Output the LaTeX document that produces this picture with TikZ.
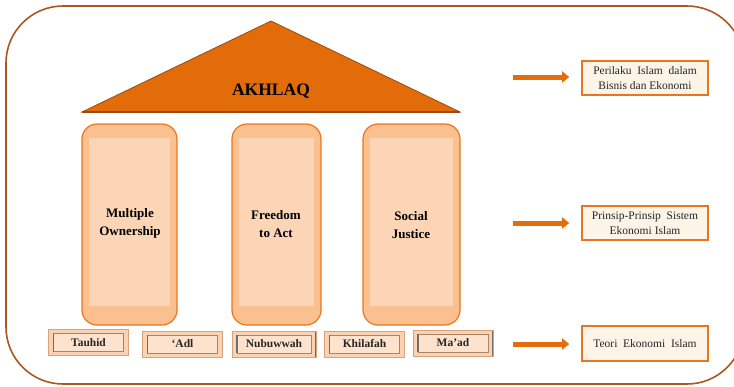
\documentclass[tikz,border=0pt]{standalone}
\usepackage{fontspec}
\setmainfont{Liberation Serif}
\usetikzlibrary{arrows.meta}

\definecolor{framebrown}{HTML}{A9581F}
\definecolor{roofo}{HTML}{E36C0A}
\definecolor{roofedge}{HTML}{9A4A10}
\definecolor{pilout}{HTML}{FAC090}
\definecolor{pilin}{HTML}{FBD5B5}
\definecolor{piledge}{HTML}{E8761E}
\definecolor{baseout}{HTML}{FAD2B2}
\definecolor{basein}{HTML}{FDE3CD}
\definecolor{baseedge}{HTML}{D7A27C}
\definecolor{bevel}{HTML}{6E6E6E}
\definecolor{notefill}{HTML}{FDF4E8}
\definecolor{noteedge}{HTML}{E8761E}
\definecolor{arrowo}{HTML}{E46C0A}
\definecolor{txt}{HTML}{262626}

\tikzset{
  pillar/.style={draw=piledge, line width=1.2pt, fill=pilout,
    rounded corners=15pt, minimum height=201pt, inner sep=0pt,
    path picture={\fill[pilin, sharp corners]
      ([shift={(7,14)}]path picture bounding box.north west) rectangle
      ([shift={(-7,-19)}]path picture bounding box.south east);}},
  piltext/.style={font=\fontsize{13}{18}\selectfont\bfseries, text=black,
    align=center},
  basebox/.style={draw=baseedge, line width=1pt, fill=baseout,
    minimum width=80pt, minimum height=26pt, inner sep=0pt,
    font=\fontsize{11.5}{13}\selectfont\bfseries, text=txt,
    path picture={
      \draw[baseedge!80!black, fill=basein, line width=0.6pt]
        ([shift={(5,4)}]path picture bounding box.north west) rectangle
        ([shift={(-5,-4)}]path picture bounding box.south east);
      \draw[bevel, line width=1.2pt]
        ([shift={(5,4)}]path picture bounding box.north west) --
        ([shift={(5,-4)}]path picture bounding box.south west);
      \draw[bevel, line width=2pt]
        (path picture bounding box.north east) --
        (path picture bounding box.south east);}},
  notebox/.style={draw=noteedge, line width=1.6pt, fill=notefill,
    minimum width=126pt, minimum height=34pt, inner sep=2pt, align=center,
    font=\fontsize{11.5}{15}\selectfont, text=txt},
  flow/.style={draw=arrowo, line width=5pt,
    -{Triangle[length=7pt,width=11pt]}}
}

\begin{document}
\begin{tikzpicture}[x=1pt,y=-1pt]
\useasboundingbox (0,0) rectangle (734,386);
\begin{scope}
\clip (0,0) rectangle (734,386);
% outer frame
\draw[framebrown, line width=1.6pt, rounded corners=57pt] (6,6) rectangle (744,384);
\end{scope}

% roof
\coordinate (rl) at (82,112);
\coordinate (rt) at (271,21);
\coordinate (rr) at (460,112);
\filldraw[fill=roofo, draw=roofedge, line width=0.8pt, line join=miter] (rl) -- (rt) -- (rr) -- cycle;
\draw[roofedge, line width=1.4pt] (rl) -- (rr);
\node[font=\fontsize{17.5}{20}\selectfont\bfseries, text=black] (akhlaq) at (271,91) {AKHLAQ};

% pillars
\node[pillar, minimum width=95pt] (p1) at (129.5,224.5) {};
\node[pillar, minimum width=89pt] (p2) at (276.5,224.5) {};
\node[pillar, minimum width=97pt] (p3) at (411.5,224.5) {};
\node[piltext] (t1) at (130,223) {Multiple\\Ownership};
\node[piltext] (t2) at (276,224) {Freedom\\to Act};
\node[piltext] (t3) at (411,225) {Social\\Justice};

% foundation stones
\node[basebox] (b1) at (88.5,342.5) {Tauhid};
\node[basebox] (b2) at (182.5,344) {‘Adl};
\node[basebox, minimum width=84pt] (b3) at (274,344) {Nubuwwah};
\node[basebox] (b4) at (364.5,344) {Khilafah};
\node[basebox] (b5) at (453,343) {Ma’ad};

% explanation boxes
\node[notebox] (n1) at (645,78) {Perilaku\ \ Islam\ \ dalam\\Bisnis dan Ekonomi};
\node[notebox] (n2) at (645,223) {Prinsip-Prinsip\ \ Sistem\\Ekonomi\ Islam};
\node[notebox, minimum height=35pt] (n3) at (645,343.5) {Teori\ \ Ekonomi\ \ Islam};

% arrows
\coordinate (a1) at (513,77);
\coordinate (a2) at (513,223);
\coordinate (a3) at (513,344);
\draw[flow] (a1) -- ([xshift=-12pt]n1.west |- a1);
\draw[flow] (a2) -- ([xshift=-12pt]n2.west |- a2);
\draw[flow] (a3) -- ([xshift=-12pt]n3.west |- a3);
\end{tikzpicture}
\end{document}
